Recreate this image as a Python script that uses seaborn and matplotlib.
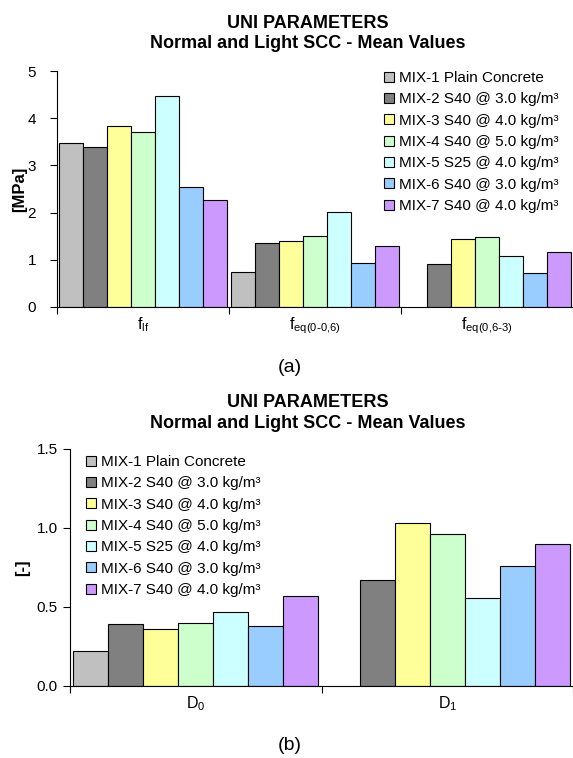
import pandas as pd
import numpy as np
import seaborn as sns
import matplotlib.pyplot as plt

# mixes and colours
mixes = ["MIX-1 Plain Concrete",
         "MIX-2 S40 @ 3.0 kg/m³",
         "MIX-3 S40 @ 4.0 kg/m³",
         "MIX-4 S40 @ 5.0 kg/m³",
         "MIX-5 S25 @ 4.0 kg/m³",
         "MIX-6 S40 @ 3.0 kg/m³",
         "MIX-7 S40 @ 4.0 kg/m³"]
colors = ["#C0C0C0", "#808080", "#FFFF99", "#CCFFCC", "#CCFFFF", "#99CCFF", "#CC99FF"]

# (a) strength parameters [MPa]
params_a = ["f$_{lf}$", "f$_{eq(0\\text{-}0{,}6)}$", "f$_{eq(0{,}6\\text{-}3)}$"]
f_lf = [3.48, 3.40, 3.83, 3.70, 4.47, 2.54, 2.27]
f_eq1 = [0.74, 1.36, 1.40, 1.50, 2.02, 0.94, 1.29]
f_eq2 = [np.nan, 0.92, 1.44, 1.48, 1.08, 0.73, 1.16]

# (b) ductility indices [-]
params_b = ["D$_0$", "D$_1$"]
d0 = [0.22, 0.39, 0.36, 0.40, 0.47, 0.38, 0.57]
d1 = [np.nan, 0.67, 1.03, 0.96, 0.56, 0.76, 0.90]

title = ["UNI PARAMETERS", "Normal and Light SCC - Mean Values"]


def long_df(params, series):
    rows = []
    for p, vals in zip(params, series):
        for m, v in zip(mixes, vals):
            if not np.isnan(v):
                rows.append({"param": p, "mix": m, "value": v})
    return pd.DataFrame(rows)


df_a = long_df(params_a, [f_lf, f_eq1, f_eq2])
df_b = long_df(params_b, [d0, d1])

sns.set_theme(style="ticks")
plt.rcParams["font.family"] = ["Liberation Sans", "DejaVu Sans"]
plt.rcParams["mathtext.default"] = "regular"
plt.rcParams.update({"text.color": "black", "axes.labelcolor": "black",
                     "xtick.color": "black", "ytick.color": "black"})

fig = plt.figure(figsize=(5.73, 7.58), dpi=100)
ax1 = fig.add_axes([0.0995, 0.595, 0.9005, 0.3113])
ax2 = fig.add_axes([0.1222, 0.095, 0.8778, 0.3127])


def draw(ax, df, params, ylim, yticks, yfmt, ylabel, ypad):
    sns.barplot(data=df, x="param", y="value", hue="mix", order=params,
                hue_order=mixes, palette=colors, edgecolor="black", linewidth=0.8,
                width=0.975, gap=0, errorbar=None, saturation=1, ax=ax)
    ax.set_xlim(-0.5, len(params) - 0.5)
    ax.set_ylim(*ylim)
    ax.set_yticks(yticks)
    ax.set_yticklabels([yfmt.format(t) for t in yticks], fontsize=11)
    ax.set_xticks(range(len(params)))
    ax.set_xticklabels(params, fontsize=11.5)
    ax.tick_params(axis="x", which="major", length=0, pad=6)
    ax.set_xticks(np.arange(-0.5, len(params)), minor=True)
    ax.tick_params(axis="x", which="minor", length=5, direction="out", width=0.8)
    ax.tick_params(axis="y", length=5, width=0.8, direction="out", pad=ypad)
    for s in ["top", "right"]:
        ax.spines[s].set_visible(False)
    for s in ["left", "bottom"]:
        ax.spines[s].set_linewidth(0.8)
        ax.spines[s].set_color("black")
    ax.set_xlabel("")
    ax.set_ylabel(ylabel, fontsize=12, fontweight="bold")


draw(ax1, df_a, params_a, (0, 5), [0, 1, 2, 3, 4, 5], "{:.0f}", "[MPa]", 10)
draw(ax2, df_b, params_b, (0, 1.5), [0, 0.5, 1.0, 1.5], "{:.1f}", "[-]", 4)

leg_kw = dict(loc="upper left", frameon=False, fontsize=11, handlelength=0.65,
              handleheight=0.65, handletextpad=0.35, labelspacing=0.48,
              borderpad=0, borderaxespad=0, bbox_transform=fig.transFigure)
ax1.legend(bbox_to_anchor=(384 / 573, 1 - 71 / 758), **leg_kw)
ax2.legend(bbox_to_anchor=(86 / 573, 1 - 455 / 758), **leg_kw)
ax1.yaxis.set_label_coords(-0.058, 0.5)
ax2.yaxis.set_label_coords(-0.08, 0.5)

for y1, y2 in [(23, 44), (402, 423)]:
    fig.text(308 / 573, 1 - y1 / 758, title[0], ha="center", va="center",
             fontsize=13, fontweight="bold")
    fig.text(308 / 573, 1 - y2 / 758, title[1], ha="center", va="center",
             fontsize=13, fontweight="bold")

fig.text(290 / 573, 1 - 367 / 758, "(a)", ha="center", va="center", fontsize=14)
fig.text(290 / 573, 1 - 746 / 758, "(b)", ha="center", va="center", fontsize=14)

fig.savefig("out.png", dpi=100)
